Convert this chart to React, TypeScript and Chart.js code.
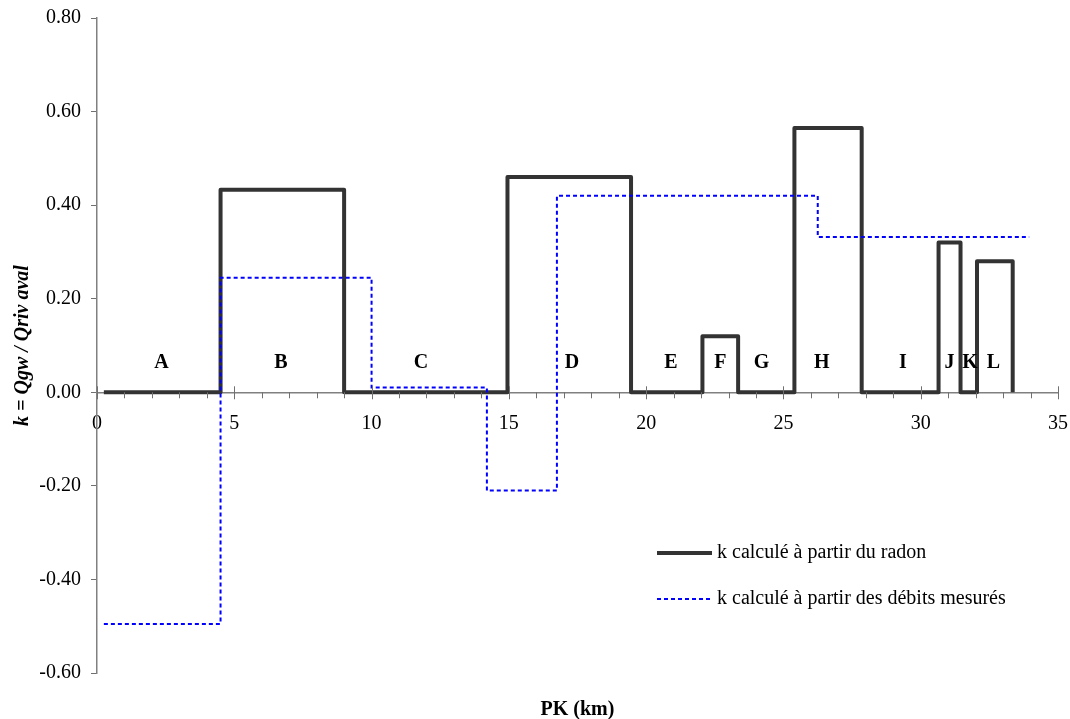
import React, { useEffect, useRef } from "react";
import { Chart, registerables } from "chart.js";

Chart.register(...registerables);

// Radon-derived k (step segments: each point starts a new level)
const radonPK = [0.25, 4.5, 9.0, 14.95, 19.45, 22.05, 23.35, 25.4, 27.85, 30.65, 31.45, 32.05, 33.35];
const radonK = [0, 0.433, 0, 0.46, 0, 0.12, 0, 0.565, 0, 0.32, 0, 0.28, 0];

// Measured-flow k
const debitPK = [0.25, 4.5, 10.0, 14.2, 16.75, 26.25, 33.95];
const debitK = [-0.495, 0.245, 0.01, -0.21, 0.42, 0.332, 0.332];

// Section letters
const sectionNames = ["A", "B", "C", "D", "E", "F", "G", "H", "I", "J", "K", "L"];
const sectionPK = [2.35, 6.7, 11.8, 17.3, 20.9, 22.7, 24.2, 26.4, 29.35, 31.05, 31.8, 32.65];
const sectionK = 0.063;

const seriesNames = ["k calculé à partir du radon", "k calculé à partir des débits mesurés"];
const xMin = 0, xMax = 35, xStep = 5;
const yMin = -0.6, yMax = 0.8, yStep = 0.2;

const FAMILY = '"Liberation Serif", "Times New Roman", Times, serif';

const overlay = {
  id: "overlay",
  afterDatasetsDraw(chart: any) {
    const { ctx, scales, chartArea } = chart;
    const xs = scales.x, ys = scales.y;
    const y0 = ys.getPixelForValue(0);
    ctx.save();
    // x ticks: major crossing, minor outside
    ctx.strokeStyle = "#707070";
    ctx.lineWidth = 1;
    for (let v = xMin; v <= xMax; v += 1) {
      const px = Math.round(xs.getPixelForValue(v)) + 0.5;
      ctx.beginPath();
      if (v % xStep === 0) {
        ctx.moveTo(px, y0 - 6);
        ctx.lineTo(px, y0 + 7);
      } else {
        ctx.moveTo(px, y0);
        ctx.lineTo(px, y0 + 6);
      }
      ctx.stroke();
    }
    // section letters
    ctx.fillStyle = "#000";
    ctx.font = `bold 20px ${FAMILY}`;
    ctx.textAlign = "center";
    ctx.textBaseline = "middle";
    sectionNames.forEach((n, i) => {
      ctx.fillText(n, xs.getPixelForValue(sectionPK[i]), ys.getPixelForValue(sectionK));
    });
    // legend
    const lx = chartArea.left + 560;
    const ly = chartArea.top + 535;
    const gap = 46;
    ctx.font = `20px ${FAMILY}`;
    ctx.textAlign = "left";
    chart.data.datasets.forEach((ds: any) => {
      const yy = ly + ds.legendIndex * gap;
      ctx.beginPath();
      ctx.strokeStyle = ds.borderColor;
      ctx.lineWidth = ds.borderWidth;
      ctx.setLineDash(ds.borderDash || []);
      ctx.moveTo(lx, yy);
      ctx.lineTo(lx + 55, yy);
      ctx.stroke();
      ctx.setLineDash([]);
      ctx.fillStyle = "#000";
      ctx.fillText(ds.label, lx + 60, yy);
    });
    ctx.restore();
  },
};

export default function App() {
  const ref = useRef<HTMLCanvasElement | null>(null);
  useEffect(() => {
    if (!ref.current) return;
    const chart = new Chart(ref.current, {
      type: "line",
      data: {
        datasets: [
          {
            label: seriesNames[0],
            legendIndex: 0,
            data: radonPK.map((x, i) => ({ x, y: radonK[i] })),
            stepped: "before",
            borderColor: "#333333",
            borderWidth: 4,
            borderJoinStyle: "round",
            pointRadius: 0,
            fill: false,
            order: 1,
          } as any,
          {
            label: seriesNames[1],
            legendIndex: 1,
            data: debitPK.map((x, i) => ({ x, y: debitK[i] })),
            stepped: "before",
            borderColor: "#0000ff",
            borderWidth: 2,
            borderDash: [4, 3],
            pointRadius: 0,
            fill: false,
            order: 0,
          } as any,
        ],
      },
      options: {
        responsive: false,
        animation: false,
        layout: { padding: { top: 18, right: 12, left: 0, bottom: -1 } },
        plugins: {
          legend: { display: false },
          tooltip: { enabled: false },
          title: {
            display: true,
            text: "PK (km)",
            position: "bottom",
            fullSize: false,
            color: "#000",
            font: { family: FAMILY, size: 20, weight: "bold", lineHeight: 1 },
            padding: { top: 27, bottom: 0 },
          },
        },
        scales: {
          x: {
            type: "linear",
            min: xMin,
            max: xMax,
            position: { y: 0 } as any,
            afterFit: (s: any) => {
              s.paddingLeft = 0;
              s.paddingRight = 0;
            },
            ticks: {
              stepSize: xStep,
              color: "#000",
              font: { family: FAMILY, size: 20, lineHeight: 1.2 },
              padding: 11,
              maxRotation: 0,
              autoSkip: false,
            },
            grid: { display: true, drawOnChartArea: false, drawTicks: true, tickLength: 8, tickColor: "rgba(0,0,0,0)" },
            border: { display: true, color: "#808080", width: 1.5 },
          },
          y: {
            type: "linear",
            min: yMin,
            max: yMax,
            position: "left",
            afterFit: (s: any) => {
              s.width = 97;
              s.paddingTop = 0;
              s.paddingBottom = 0;
            },
            ticks: {
              stepSize: yStep,
              color: "#000",
              font: { family: FAMILY, size: 20, lineHeight: 1.2 },
              padding: 10,
              callback: (v: any) => (Math.abs(Number(v)) < 1e-9 ? "0.00" : Number(v).toFixed(2)),
            },
            grid: { display: true, drawOnChartArea: false, drawTicks: true, tickLength: 6, tickColor: "#707070" },
            border: { display: true, color: "#808080", width: 1.5 },
            title: {
              display: true,
              text: "k = Qgw / Qriv aval",
              color: "#000",
              font: { family: FAMILY, size: 20, weight: "bold", style: "italic", lineHeight: 1 },
              padding: { top: 13, bottom: 0 },
            },
          },
        },
      } as any,
      plugins: [overlay],
    });
    return () => chart.destroy();
  }, []);
  return (
    <div style={{ position: "fixed", left: 0, top: 0, width: 1070, height: 719, background: "#fff" }}>
      <canvas ref={ref} width={1070} height={719} style={{ width: 1070, height: 719, display: "block" }} />
    </div>
  );
}
